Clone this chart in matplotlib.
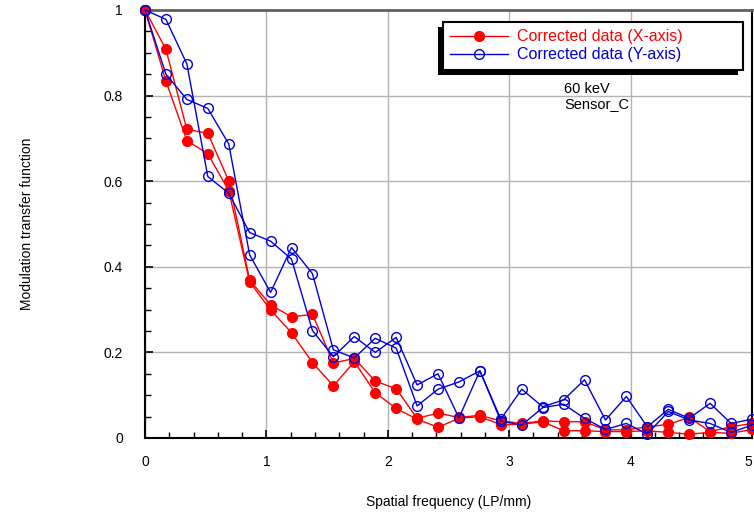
import numpy as np
import matplotlib.pyplot as plt
from matplotlib.patches import Rectangle
from matplotlib.transforms import IdentityTransform

plt.rcParams['font.family'] = ['Liberation Sans', 'DejaVu Sans']

# spatial frequency, 30 samples from 0 to 5 LP/mm
freq = np.linspace(0, 5, 30)

# corrected data, X-axis (two measurements)
red_a = [1.0, 0.908, 0.721, 0.712, 0.601, 0.369, 0.311, 0.283, 0.289, 0.175,
         0.186, 0.133, 0.115, 0.046, 0.058, 0.048, 0.053, 0.040, 0.034, 0.040,
         0.038, 0.038, 0.019, 0.019, 0.026, 0.032, 0.048, 0.015, 0.026, 0.034]
red_b = [1.0, 0.834, 0.695, 0.664, 0.578, 0.365, 0.299, 0.246, 0.176, 0.122,
         0.178, 0.106, 0.069, 0.044, 0.025, 0.046, 0.050, 0.031, 0.032, 0.038,
         0.017, 0.017, 0.015, 0.015, 0.017, 0.013, 0.009, 0.013, 0.011, 0.020]

# corrected data, Y-axis (two measurements)
blue_a = [1.0, 0.978, 0.874, 0.611, 0.572, 0.480, 0.460, 0.418, 0.251, 0.190,
          0.237, 0.200, 0.235, 0.124, 0.150, 0.047, 0.157, 0.044, 0.114, 0.073,
          0.089, 0.136, 0.042, 0.097, 0.026, 0.067, 0.046, 0.081, 0.034, 0.044]
blue_b = [1.0, 0.850, 0.791, 0.770, 0.687, 0.428, 0.340, 0.445, 0.384, 0.206,
          0.187, 0.233, 0.210, 0.075, 0.114, 0.131, 0.157, 0.040, 0.030, 0.071,
          0.079, 0.046, 0.020, 0.034, 0.009, 0.062, 0.042, 0.034, 0.013, 0.030]

x_ticks = [0, 1, 2, 3, 4, 5]
x_labels = ['0', '1', '2', '3', '4', '5']
y_ticks = [0, 0.2, 0.4, 0.6, 0.8, 1]
y_labels = ['0', '0.2', '0.4', '0.6', '0.8', '1']

fig = plt.figure(figsize=(7.54, 5.20), dpi=100)
ax = fig.add_axes([0.1923, 0.1577, 0.805, 0.8231])

ax.plot(freq, red_a, color='red', lw=1, marker='o', ms=7, mfc='red', mec='red',
        clip_on=False, zorder=3, label='Corrected data (X-axis)')
ax.plot(freq, red_b, color='red', lw=1, marker='o', ms=7, mfc='red', mec='red',
        clip_on=False, zorder=3)
ax.plot(freq, blue_a, color='#0000dd', lw=1, marker='o', ms=7, mfc='none', mec='#0000dd',
        mew=1, clip_on=False, zorder=4, label='Corrected data (Y-axis)')
ax.plot(freq, blue_b, color='#0000dd', lw=1, marker='o', ms=7, mfc='none', mec='#0000dd',
        mew=1, clip_on=False, zorder=4)

ax.set_xlim(0, 5)
ax.set_ylim(0, 1)
ax.set_xticks(x_ticks)
ax.set_xticklabels(x_labels)
ax.get_xticklabels()[-1].set_horizontalalignment('right')
ax.set_yticks(y_ticks)
ax.set_yticklabels(y_labels)
ax.set_xticks(np.arange(0, 5.01, 0.2), minor=True)
ax.set_yticks(np.arange(0, 1.001, 0.05), minor=True)
ax.tick_params(which='both', direction='in', labelsize=10, colors='black')
ax.tick_params(which='major', length=6, width=1.2)
ax.tick_params(which='minor', length=4, width=1)
ax.tick_params(axis='x', which='both', pad=12)
ax.tick_params(axis='y', which='both', pad=16)

ax.grid(True, which='major', color='#b4b4b4', lw=1)
ax.set_axisbelow(True)

for side in ['left', 'bottom', 'right']:
    ax.spines[side].set_linewidth(1.5)
    ax.spines[side].set_color('black')
ax.spines['top'].set_linewidth(2)
ax.spines['top'].set_color('#606060')

ax.set_xlabel('Spatial frequency (LP/mm)', fontsize=10, labelpad=19)
ax.set_ylabel('Modulation transfer function', fontsize=10, labelpad=50)

leg = ax.legend(loc='upper left', bbox_to_anchor=(0.491, 0.972, 0.494, 0.0), mode='expand',
                borderaxespad=0, fancybox=False, edgecolor='black', framealpha=1,
                fontsize=11.5, handlelength=3.6, borderpad=0.45, labelspacing=0.2,
                handletextpad=0.6)
leg.get_frame().set_linewidth(1.5)
leg.set_zorder(6)
for txt, col in zip(leg.get_texts(), ['red', '#0000dd']):
    txt.set_color(col)

ax.text(0.691, 0.805, '60 keV', transform=ax.transAxes, fontsize=10.5)
ax.text(0.691, 0.770, 'Sensor_C', transform=ax.transAxes, fontsize=10.5)

# shadow behind the legend box, offset to the lower left
fig.canvas.draw()
bb = leg.get_frame().get_window_extent()
ax.add_patch(Rectangle((bb.x0 - 5, bb.y0 - 5), bb.width, bb.height, transform=IdentityTransform(),
                       facecolor='black', edgecolor='none', zorder=5.5, clip_on=False))

fig.savefig('out.png', dpi=100)
